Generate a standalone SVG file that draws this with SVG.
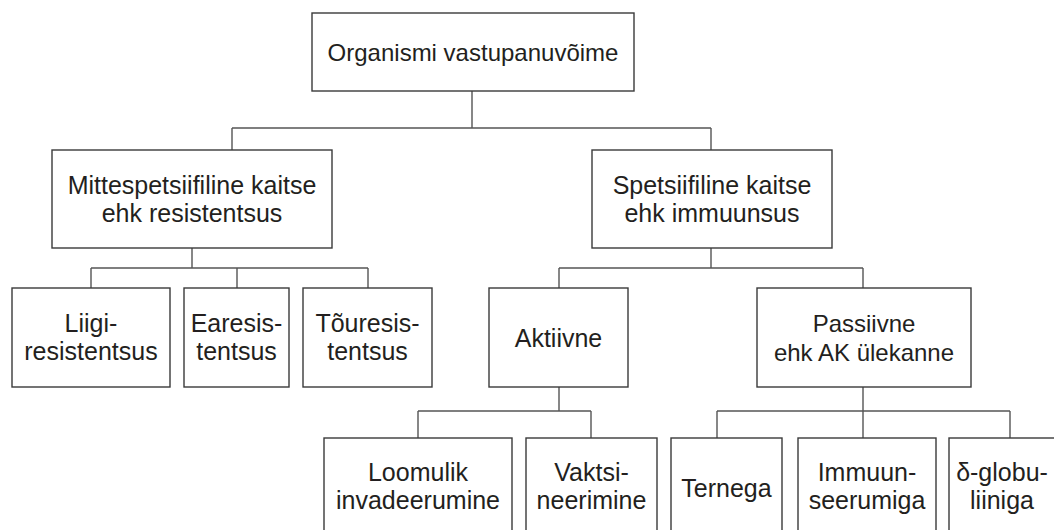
<svg xmlns="http://www.w3.org/2000/svg" width="1054" height="530" viewBox="0 0 1054 530">
<style>
.box{fill:#fff;stroke:#3a3a3a;stroke-width:1.4}
.con{fill:none;stroke:#555;stroke-width:1.4}
text{font-family:"Liberation Sans",Arial,sans-serif;font-size:24px;fill:#231f20;text-anchor:middle}
.b{font-size:25px}
</style>
<rect width="1054" height="530" fill="#fff"/>
<g id="connectors">
<path class="con" d="M472 91V128M232 128H711M232 128V150M711 128V150"/>
<path class="con" d="M192 248V268M91 268H368M91 268V288M237 268V288M368 268V288"/>
<path class="con" d="M711 248V268M559 268H863M559 268V288M863 268V288"/>
<path class="con" d="M559 386V411M418 411H591M418 411V438M591 411V438"/>
<path class="con" d="M863 386V438M717 411H1010M717 411V438M1010 411V438"/>
</g>
<g id="n-root"><rect class="box" x="312" y="13" width="322" height="78"/><text x="473" y="61">Organismi vastupanuvõime</text></g>
<g id="n-mitte"><rect class="box" x="52" y="150" width="280" height="98"/><text class="b" x="192" y="194">Mittespetsiifiline kaitse</text><text class="b" x="192" y="222">ehk resistentsus</text></g>
<g id="n-spets"><rect class="box" x="592" y="150" width="240" height="98"/><text class="b" x="712" y="194">Spetsiifiline kaitse</text><text class="b" x="712" y="222">ehk immuunsus</text></g>
<g id="n-liigi"><rect class="box" x="12" y="288" width="158" height="99"/><text class="b" x="91" y="332">Liigi-</text><text class="b" x="91" y="360">resistentsus</text></g>
<g id="n-eares"><rect class="box" x="184" y="288" width="105" height="99"/><text class="b" x="236.5" y="332">Earesis-</text><text class="b" x="236.5" y="360">tentsus</text></g>
<g id="n-toures"><rect class="box" x="303" y="288" width="129" height="99"/><text class="b" x="367.5" y="332">Tõuresis-</text><text class="b" x="367.5" y="360">tentsus</text></g>
<g id="n-akt"><rect class="box" x="489" y="288" width="139" height="99"/><text class="b" x="558.5" y="347">Aktiivne</text></g>
<g id="n-pass"><rect class="box" x="757" y="288" width="214" height="99"/><text x="864" y="332">Passiivne</text><text x="864" y="361">ehk AK ülekanne</text></g>
<g id="n-loom"><rect class="box" x="324" y="438" width="188" height="102"/><text class="b" x="418" y="481">Loomulik</text><text class="b" x="418" y="509">invadeerumine</text></g>
<g id="n-vakt"><rect class="box" x="526" y="438" width="131" height="102"/><text class="b" x="591.5" y="481">Vaktsi-</text><text class="b" x="591.5" y="509">neerimine</text></g>
<g id="n-tern"><rect class="box" x="671" y="438" width="111" height="102"/><text class="b" x="726.5" y="497">Ternega</text></g>
<g id="n-immuun"><rect class="box" x="798" y="438" width="138" height="102"/><text class="b" x="867" y="481">Immuun-</text><text class="b" x="867" y="509">seerumiga</text></g>
<g id="n-delta"><rect class="box" x="949" y="438" width="120" height="102"/><text class="b" x="1002" y="481">δ-globu-</text><text class="b" x="1002" y="509">liiniga</text></g>
</svg>
